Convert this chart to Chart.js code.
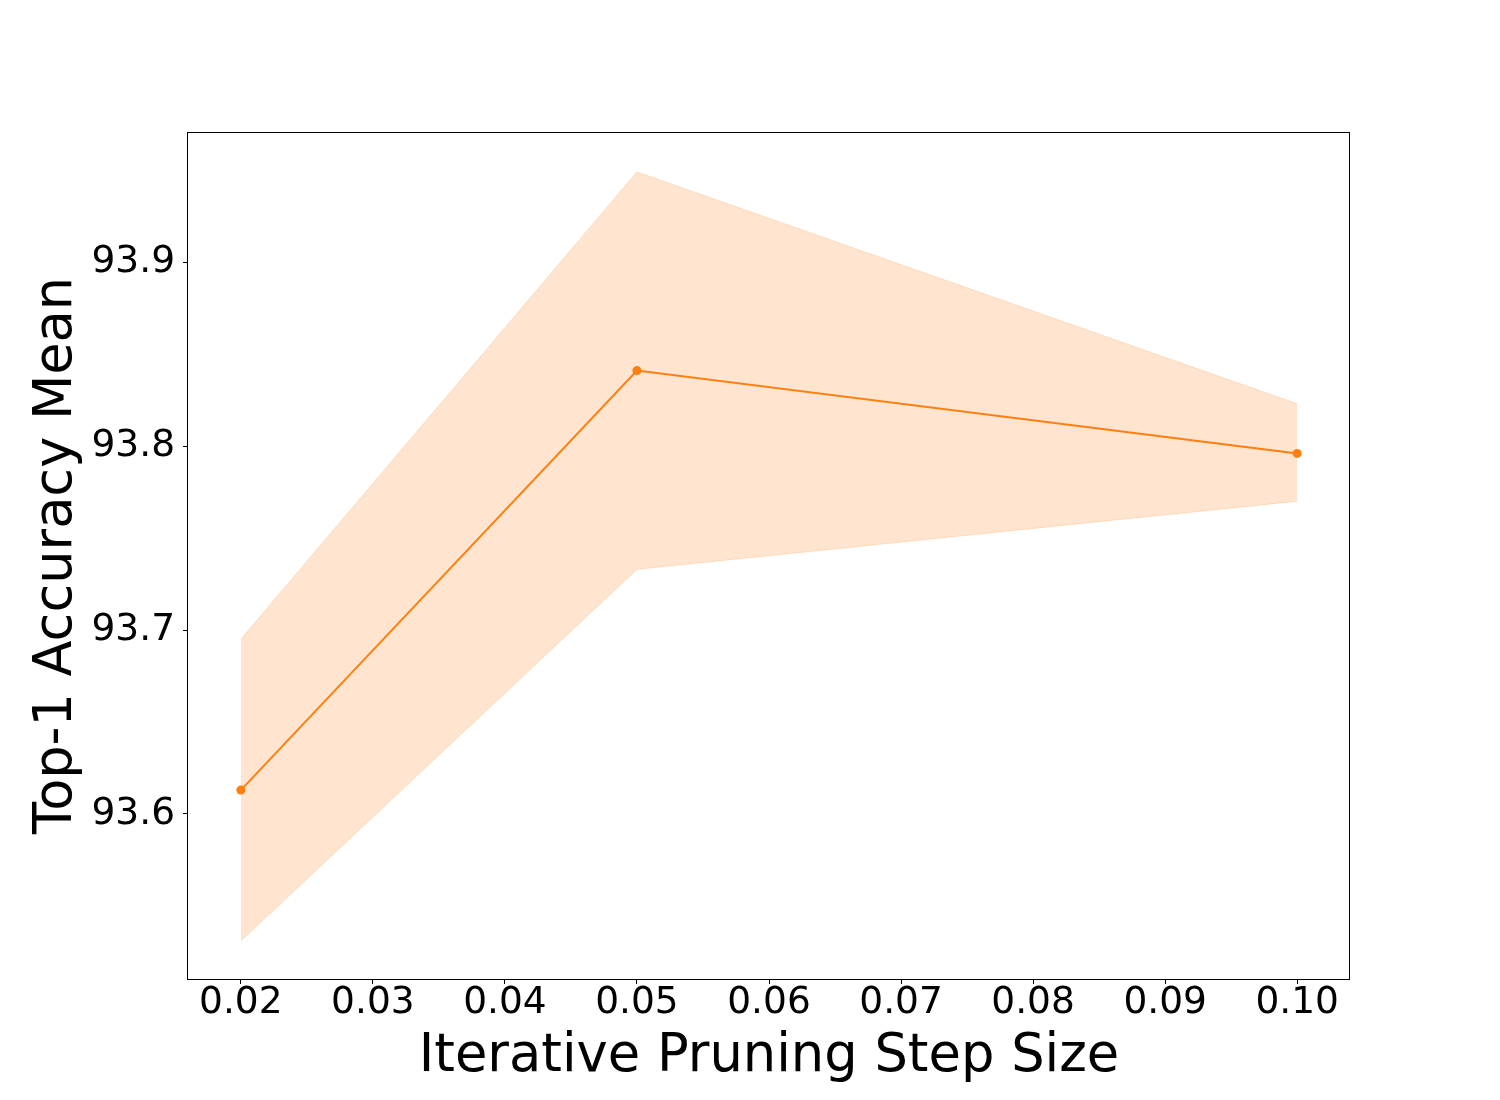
<!DOCTYPE html>
<html>
<head>
<meta charset="utf-8">
<script src="https://cdn.jsdelivr.net/npm/chart.js@4.4.0/dist/chart.umd.min.js"></script>
<style>
  html, body { margin: 0; padding: 0; background: #fff; }
  #wrap { width: 1500px; height: 1100px; }
</style>
</head>
<body>
<div id="wrap"><canvas id="chart" width="1500" height="1100"></canvas></div>
<script>
// step sizes on the x axis
const stepSizes = [0.02, 0.05, 0.10];
// top-1 accuracy mean and the band around it
const accMean  = [93.613, 93.841, 93.796];
const accUpper = [93.695, 93.949, 93.823];
const accLower = [93.531, 93.733, 93.770];

const xTicks = [0.02, 0.03, 0.04, 0.05, 0.06, 0.07, 0.08, 0.09, 0.10];
const yTicks = [93.6, 93.7, 93.8, 93.9];

const orange = '#ff7f0e';
const bandColor = 'rgba(255, 127, 14, 0.2)';

function toPoints(ys) {
    return stepSizes.map((x, i) => ({ x: x, y: ys[i] }));
}

// matplotlib-like box around the plot area
const frameBox = {
    id: 'frameBox',
    afterDraw(chart) {
        const a = chart.chartArea;
        const ctx = chart.ctx;
        ctx.save();
        ctx.strokeStyle = '#000';
        ctx.lineWidth = 1;
        ctx.strokeRect(Math.round(a.left) - 0.5, Math.round(a.top) + 0.5,
                       Math.round(a.right) - Math.round(a.left), Math.round(a.bottom) - Math.round(a.top));
        ctx.restore();
    }
};

const ctx = document.getElementById('chart').getContext('2d');
const chart = new Chart(ctx, {
    type: 'line',
    data: {
        datasets: [{
            label: 'mean',
            data: toPoints(accMean),
            borderColor: orange,
            backgroundColor: orange,
            borderWidth: 2,
            pointRadius: 4.5,
            pointBorderWidth: 0,
            pointBackgroundColor: orange,
            fill: false,
            tension: 0,
            order: 0
        }, {
            label: 'upper',
            data: toPoints(accUpper),
            borderColor: bandColor,
            backgroundColor: bandColor,
            borderWidth: 1,
            pointRadius: 0,
            fill: '+1',
            tension: 0,
            order: 1
        }, {
            label: 'lower',
            data: toPoints(accLower),
            borderColor: bandColor,
            backgroundColor: bandColor,
            borderWidth: 1,
            pointRadius: 0,
            fill: false,
            tension: 0,
            order: 2
        }]
    },
    options: {
        responsive: false,
        animation: false,
        layout: {
            padding: { left: 0, top: 132, right: 150, bottom: 0 }
        },
        plugins: {
            legend: { display: false },
            tooltip: { enabled: false },
            title: { display: false }
        },
        scales: {
            x: {
                type: 'linear',
                min: 0.016,
                max: 0.104,
                afterBuildTicks: function(scale) {
                    scale.ticks = xTicks.map(v => ({ value: v }));
                },
                afterFit: function(scale) {
                    scale.height = 121;
                },
                grid: {
                    drawOnChartArea: false,
                    drawTicks: true,
                    tickLength: 5,
                    color: '#000',
                    lineWidth: 1
                },
                border: { display: false },
                ticks: {
                    color: '#000',
                    padding: 1,
                    maxRotation: 0,
                    autoSkip: false,
                    font: { family: 'DejaVu Sans', size: 37.5, lineHeight: 1 },
                    callback: function(v) { return v.toFixed(2); }
                },
                title: {
                    display: true,
                    text: 'Iterative Pruning Step Size',
                    color: '#000',
                    font: { family: 'DejaVu Sans', size: 52.7, lineHeight: 1 },
                    padding: { top: 0, bottom: 16 }
                }
            },
            y: {
                type: 'linear',
                min: 93.5103,
                max: 93.9707,
                afterBuildTicks: function(scale) {
                    scale.ticks = yTicks.map(v => ({ value: v }));
                },
                afterFit: function(scale) {
                    scale.width = 188;
                },
                grid: {
                    drawOnChartArea: false,
                    drawTicks: true,
                    tickLength: 5,
                    color: '#000',
                    lineWidth: 1
                },
                border: { display: false },
                ticks: {
                    color: '#000',
                    padding: 8,
                    autoSkip: false,
                    font: { family: 'DejaVu Sans', size: 37.5, lineHeight: 1 },
                    callback: function(v) { return v.toFixed(1); }
                },
                title: {
                    display: true,
                    text: 'Top-1 Accuracy Mean',
                    color: '#000',
                    font: { family: 'DejaVu Sans', size: 52.5, lineHeight: 1 },
                    padding: { top: 31, bottom: 0 }
                }
            }
        }
    },
    plugins: [frameBox]
});
</script>
</body>
</html>
